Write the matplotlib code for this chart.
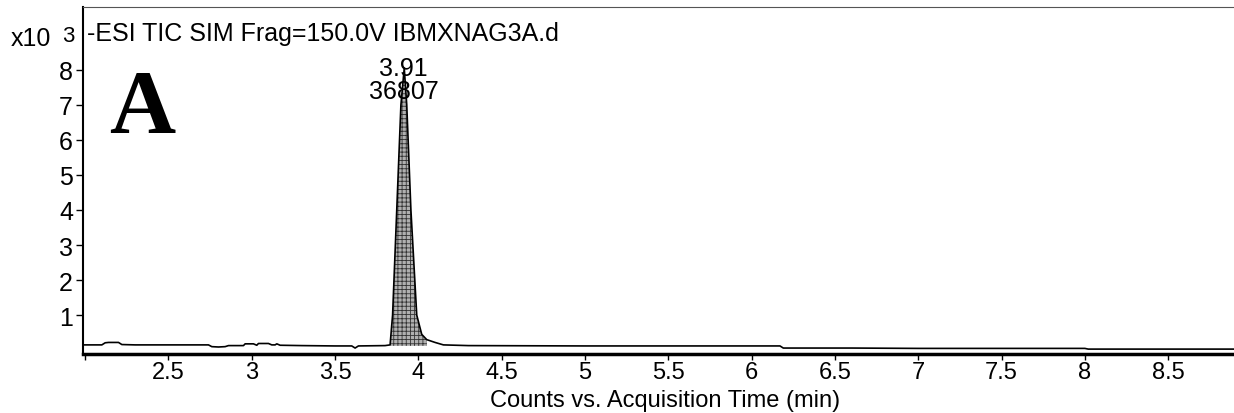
import matplotlib
matplotlib.use("Agg")
import matplotlib.pyplot as plt

plt.rcParams['font.family'] = ['Liberation Sans', 'DejaVu Sans']
plt.rcParams['hatch.linewidth'] = 0.6

# acquisition time (min) and counts (x10^3)
time = [1.99, 2.10, 2.12, 2.14, 2.20, 2.22, 2.30, 2.50, 2.74, 2.76, 2.80, 2.84,
        2.86, 2.95, 2.96, 3.01, 3.03, 3.04, 3.10, 3.12, 3.14, 3.15, 3.17, 3.30,
        3.50, 3.60, 3.62, 3.64, 3.80, 3.83, 3.845, 3.87, 3.895, 3.915, 3.93,
        3.955, 3.99, 4.02, 4.05, 4.10, 4.15, 4.30, 5.00, 5.80, 6.17, 6.19,
        6.60, 7.00, 7.50, 8.00, 8.02, 8.50, 8.90]
counts = [0.15, 0.15, 0.21, 0.22, 0.22, 0.16, 0.15, 0.15, 0.15, 0.10, 0.09, 0.10,
          0.13, 0.13, 0.18, 0.18, 0.14, 0.19, 0.19, 0.15, 0.15, 0.18, 0.14, 0.13,
          0.12, 0.12, 0.06, 0.12, 0.13, 0.15, 1.00, 4.00, 7.00, 8.05, 7.00,
          4.00, 1.00, 0.45, 0.30, 0.22, 0.15, 0.13, 0.12, 0.12, 0.12, 0.06,
          0.06, 0.05, 0.05, 0.05, 0.03, 0.03, 0.03]

peak_start, peak_end = 3.83, 4.08
peak_rt = 3.91
peak_area = 36807

xticks = [2.0, 2.5, 3.0, 3.5, 4.0, 4.5, 5.0, 5.5, 6.0, 6.5, 7.0, 7.5, 8.0, 8.5]
xticklabels = ['', '2.5', '3', '3.5', '4', '4.5', '5', '5.5', '6', '6.5', '7', '7.5', '8', '8.5']
yticks = [1, 2, 3, 4, 5, 6, 7, 8]

fig = plt.figure(figsize=(12.34, 4.14), dpi=100)
ax = fig.add_axes([0.067, 0.1425, 0.933, 0.838])

ax.plot(time, counts, color='black', linewidth=1.2)
in_peak = [peak_start <= t <= peak_end for t in time]
ax.fill_between(time, 0.12, counts, where=in_peak, facecolor='#b0b0b0',
                edgecolor='#333333', hatch='++++', linewidth=0)

ax.set_xlim(1.985, 8.895)
ax.set_ylim(-0.11, 9.79)
ax.set_xticks(xticks)
ax.set_xticklabels(xticklabels)
ax.set_yticks(yticks)
ax.tick_params(labelsize=17, length=4, width=1, direction='out', pad=1)
ax.tick_params(axis='y', labelsize=18, length=5, pad=2)

ax.spines['right'].set_visible(False)
ax.spines['top'].set_color('#555555')
ax.spines['left'].set_linewidth(1.5)
ax.spines['bottom'].set_linewidth(2.5)

ax.set_xlabel('Counts vs. Acquisition Time (min)', fontsize=17)
ax.xaxis.set_label_coords(0.506, -0.1)
ax.xaxis.label.set_va('top')

ax.text(0.004, 0.925, '-ESI TIC SIM Frag=150.0V IBMXNAG3A.d', transform=ax.transAxes,
        fontsize=18, va='center', ha='left')
ax.text(peak_rt, 7.72, f'{peak_rt:.2f}\n{peak_area}', fontsize=18,
        ha='center', va='center', linespacing=0.95)
ax.text(0.023, 0.64, 'A', transform=ax.transAxes, fontsize=66, fontweight='bold',
        family='Liberation Serif', va='baseline', ha='left')

fig.text(0.009, 0.905, 'x10', fontsize=18, va='center', ha='left')
fig.text(0.050, 0.912, '3', fontsize=16, va='center', ha='left')

fig.savefig('out.png', dpi=100, facecolor='white')
